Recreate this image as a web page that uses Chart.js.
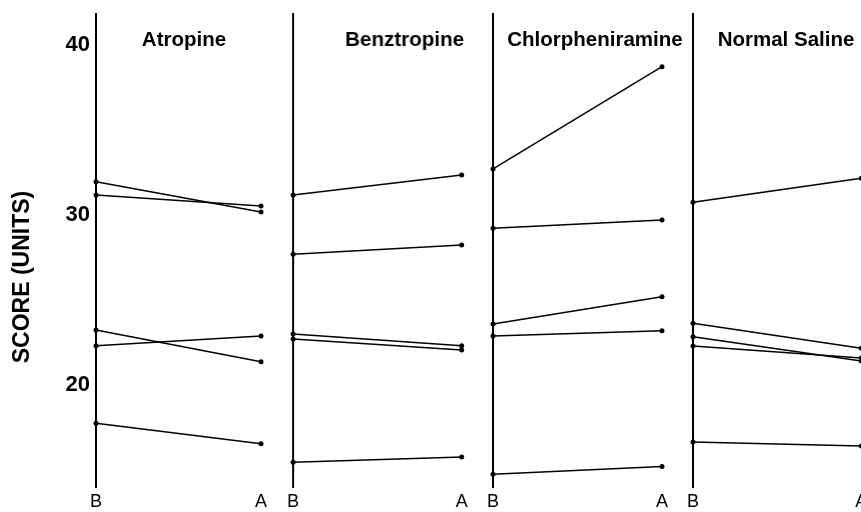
<!DOCTYPE html>
<html lang="en">
<head>
<meta charset="UTF-8">
<title>Score before and after treatment</title>
<script src="https://cdn.jsdelivr.net/npm/chart.js"></script>
<style>
  html, body {
    margin: 0;
    padding: 0;
    background: #fff;
    width: 861px;
    height: 512px;
    overflow: hidden;
  }
  .panel {
    position: absolute;
    top: 0;
    height: 512px;
  }
</style>
</head>
<body>
<div class="panel" id="p0"><canvas id="c0"></canvas></div>
<div class="panel" id="p1"><canvas id="c1"></canvas></div>
<div class="panel" id="p2"><canvas id="c2"></canvas></div>
<div class="panel" id="p3"><canvas id="c3"></canvas></div>

<script>
// data
const drugs = ['Atropine', 'Benztropine', 'Chlorpheniramine', 'Normal Saline'];
const timepoints = ['B', 'A'];
const yTicks = [20, 30, 40];
const yAxisTitle = 'SCORE (UNITS)';

// one value per subject: B = before, A = after
const atropineB = [31.96, 31.18, 23.24, 22.31, 17.75];
const atropineA = [30.18, 30.53, 21.37, 22.88, 16.55];
const benztropineB = [31.18, 27.69, 23.0, 22.71, 15.45];
const benztropineA = [32.35, 28.24, 22.31, 22.06, 15.76];
const chlorpheniramineB = [32.71, 29.22, 23.59, 22.88, 14.75];
const chlorpheniramineA = [38.72, 29.71, 25.19, 23.19, 15.2];
const salineB = [30.75, 23.63, 22.84, 22.29, 16.65];
const salineA = [32.16, 22.16, 21.41, 21.59, 16.41];

const before = [atropineB, benztropineB, chlorpheniramineB, salineB];
const after = [atropineA, benztropineA, chlorpheniramineA, salineA];

// layout of the four panels (pixels)
const panelX = [96, 293, 492.7, 692.7];
const panelW = [165, 167.7, 169, 168.3];
const titleOffset = [88, 111, 102, 93];
const yMin = 14.0;
const yMax = 41.82;
const FONT = '"Liberation Sans", Arial, Helvetica, sans-serif';

// panel name inside the plot area, and the rotated axis title on the first one
const panelLabels = {
    id: 'panelLabels',
    afterDraw(chart, args, opts) {
        const ctx = chart.ctx;
        ctx.save();
        ctx.fillStyle = '#000';
        ctx.textAlign = 'center';
        ctx.textBaseline = 'middle';
        ctx.font = 'bold 20.5px ' + FONT;
        ctx.fillText(opts.title, chart.chartArea.left + opts.offset, 40);
        if (opts.axisTitle) {
            ctx.translate(23, 277);
            ctx.rotate(-Math.PI / 2);
            ctx.font = 'bold 23px ' + FONT;
            ctx.fillText(opts.axisTitle, 0, 0);
        }
        ctx.restore();
    }
};

drugs.forEach((drug, i) => {
    const padL = i === 0 ? 96 : 20;
    const padR = 20;
    const box = document.getElementById('p' + i);
    box.style.left = (panelX[i] - padL) + 'px';
    box.style.width = (panelW[i] + padL + padR) + 'px';

    const datasets = before[i].map((b, k) => ({
        data: [b, after[i][k]],
        borderColor: '#000',
        borderWidth: 1.5,
        pointRadius: 2.5,
        pointBackgroundColor: '#000',
        pointBorderColor: '#000',
        pointBorderWidth: 0,
        tension: 0,
        clip: false
    }));

    new Chart(document.getElementById('c' + i), {
        type: 'line',
        data: { labels: timepoints, datasets: datasets },
        plugins: [panelLabels],
        options: {
            responsive: true,
            maintainAspectRatio: false,
            animation: false,
            layout: { padding: { top: 14, left: 0, right: padR, bottom: 0 } },
            plugins: {
                legend: { display: false },
                tooltip: { enabled: false },
                panelLabels: { title: drug, offset: titleOffset[i], axisTitle: i === 0 ? yAxisTitle : null }
            },
            scales: {
                x: {
                    type: 'category',
                    offset: false,
                    grid: { display: false, drawTicks: false },
                    border: { display: false },
                    ticks: {
                        color: '#000',
                        font: { size: 18, family: FONT },
                        padding: 4,
                        maxRotation: 0,
                        autoSkip: false
                    },
                    afterFit(s) {
                        s.height = 25;
                        s.paddingLeft = 0;
                        s.paddingRight = 0;
                    }
                },
                y: {
                    min: yMin,
                    max: yMax,
                    grid: { display: false, drawTicks: false },
                    border: { display: true, color: '#000', width: 2 },
                    ticks: {
                        display: i === 0,
                        color: '#000',
                        font: { size: 22, weight: 'bold', family: FONT },
                        padding: 6
                    },
                    afterBuildTicks(s) {
                        s.ticks = yTicks.map(v => ({ value: v }));
                    },
                    afterFit(s) {
                        s.width = padL;
                        s.paddingTop = 0;
                        s.paddingBottom = 0;
                    }
                }
            }
        }
    });
});
</script>
</body>
</html>
